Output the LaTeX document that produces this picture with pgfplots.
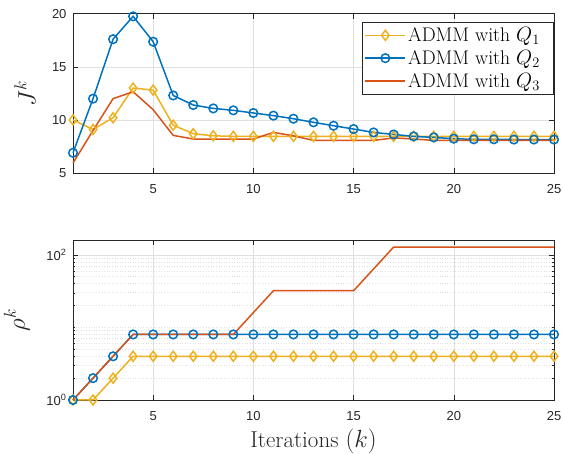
\documentclass[border=0pt]{standalone}
\usepackage{pgfplots}
\pgfplotsset{compat=1.18}
\usepackage{fontspec}
\newfontfamily\hv{Liberation Sans}
\definecolor{mblue}{rgb}{0,0.447,0.741}
\definecolor{mred}{rgb}{0.85,0.325,0.098}
\definecolor{myel}{rgb}{0.929,0.694,0.125}
\definecolor{axc}{rgb}{0.15,0.15,0.15}
\definecolor{gridc}{rgb}{0.88,0.88,0.88}
\pgfplotsset{
 mystyle/.style={
  scale only axis, width=481pt,
  xmin=1, xmax=25, xtick={5,10,15,20,25},
  tick align=inside, major tick length=5pt, minor tick length=2.5pt,
  axis line style={axc, line width=0.5pt},
  every tick/.style={axc, line width=0.5pt},
  major grid style={gridc, line width=0.5pt},
  minor grid style={gridc, line width=0.6pt, dotted},
  tick label style={font=\hv\fontsize{13}{15}\selectfont, text=axc},
  /pgf/number format/assume math mode=true,
  xticklabel style={yshift=-8pt},
  yticklabel style={xshift=-3pt},
  label style={font=\fontsize{23}{27}\selectfont, text=axc},
  clip=false,
 },
 q1/.style={myel, line width=1.5pt, mark=diamond, mark size=5pt, mark options={solid, line width=1.5pt, fill=none}},
 q2/.style={mblue, line width=1.5pt, mark=o, mark size=4.3pt, mark options={solid, line width=1.5pt}},
 q3/.style={mred, line width=1.5pt, no marks},
}
\begin{document}
\begin{tikzpicture}
\begin{axis}[mystyle, at={(73pt,281pt)}, anchor=south west, height=159.3pt,
  ymin=5, ymax=20, ytick={5,10,15,20}, grid=major,
  ylabel={$J^k$},
  ylabel style={at={(axis description cs:-0.1,0.5)}, anchor=center},
  legend style={at={(axis description cs:0.998,0.95)}, anchor=north east,
    draw=axc, fill=white, font=\fontsize{19.7}{23}\selectfont,
    inner xsep=2pt, inner ysep=2pt, row sep=0pt,
    nodes={inner xsep=2pt, inner ysep=3.6pt}},
  legend cell align=left,
  legend image code/.code={\draw[mark repeat=2, mark phase=2, line width=1.5pt] plot coordinates {(0pt,0pt) (20pt,0pt) (40pt,0pt)};},
]
\addplot[q1] coordinates {(1,10.0) (2,9.1) (3,10.2) (4,13.0) (5,12.8) (6,9.5) (7,8.7) (8,8.5) (9,8.45) (10,8.45) (11,8.45) (12,8.45) (13,8.45) (14,8.45) (15,8.45) (16,8.45) (17,8.45) (18,8.45) (19,8.45) (20,8.45) (21,8.45) (22,8.45) (23,8.45) (24,8.45) (25,8.45)};
\addlegendentry{ADMM with $Q_1$\hspace*{9pt}}
\addplot[q2] coordinates {(1,6.9) (2,12.0) (3,17.6) (4,19.75) (5,17.36) (6,12.3) (7,11.4) (8,11.08) (9,10.9) (10,10.65) (11,10.4) (12,10.11) (13,9.77) (14,9.45) (15,9.14) (16,8.82) (17,8.63) (18,8.45) (19,8.35) (20,8.23) (21,8.17) (22,8.17) (23,8.15) (24,8.15) (25,8.15)};
\addlegendentry{ADMM with $Q_2$\hspace*{9pt}}
\addplot[q3] coordinates {(1,5.94) (2,9.0) (3,12.0) (4,12.65) (5,10.96) (6,8.54) (7,8.2) (8,8.2) (9,8.2) (10,8.2) (11,8.82) (12,8.5) (13,8.07) (14,8.07) (15,8.07) (16,8.07) (17,8.3) (18,8.2) (19,8.07) (20,8.07) (21,8.07) (22,8.07) (23,8.07) (24,8.07) (25,8.07)};
\addlegendentry{ADMM with $Q_3$\hspace*{9pt}}
\end{axis}
\begin{axis}[mystyle, at={(73pt,54pt)}, anchor=south west, height=160pt,
  ymode=log, ymin=1, ymax=160, ytick={1,100},
  yticklabels={10\textsuperscript{0},10\textsuperscript{2}},
  minor ytick={2,3,4,5,6,7,8,9,10,20,30,40,50,60,70,80,90},
  grid=both,
  ylabel={$\rho^k$},
  ylabel style={at={(axis description cs:-0.117,0.5)}, anchor=center},
  xlabel={Iterations $(k)$},
  xlabel style={at={(axis description cs:0.5,-0.298)}, anchor=base},
]
\addplot[q1] coordinates {(1,1) (2,1) (3,2) (4,4) (5,4) (6,4) (7,4) (8,4) (9,4) (10,4) (11,4) (12,4) (13,4) (14,4) (15,4) (16,4) (17,4) (18,4) (19,4) (20,4) (21,4) (22,4) (23,4) (24,4) (25,4)};
\addplot[q2] coordinates {(1,1) (2,2) (3,4) (4,8) (5,8) (6,8) (7,8) (8,8) (9,8) (10,8) (11,8) (12,8) (13,8) (14,8) (15,8) (16,8) (17,8) (18,8) (19,8) (20,8) (21,8) (22,8) (23,8) (24,8) (25,8)};
\addplot[q3] coordinates {(1,1) (2,2) (3,4) (4,8) (5,8) (6,8) (7,8) (8,8) (9,8) (10,16) (11,32) (12,32) (13,32) (14,32) (15,32) (16,64) (17,128) (18,128) (19,128) (20,128) (21,128) (22,128) (23,128) (24,128) (25,128)};
\end{axis}
\pgfresetboundingbox
\useasboundingbox (0,0) rectangle (563pt,454pt);
\end{tikzpicture}
\end{document}
